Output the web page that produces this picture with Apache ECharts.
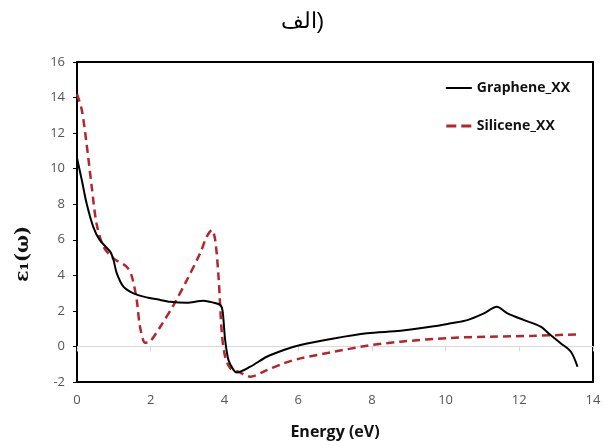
<!DOCTYPE html>
<html>
<head>
<meta charset="utf-8">
<script src="https://cdn.jsdelivr.net/npm/echarts@6/dist/echarts.min.js"></script>
<style>
  html, body { margin: 0; padding: 0; background: #fff; }
  #chart { width: 605px; height: 445px; }
</style>
</head>
<body>
<div id="chart"></div>
<script>
// values (energy in eV, eps1)
const grapheneE = [0, 0.13, 0.26, 0.44, 0.62, 0.9, 0.99, 1.08, 1.26, 1.53, 1.89, 2.17, 2.53, 2.98, 3.43, 3.71, 3.89, 3.95, 4.02, 4.11, 4.25, 4.34, 4.7, 5.15, 5.61, 6.06, 6.97, 7.87, 8.78, 9.68, 10.14, 10.59, 11.04, 11.39, 11.68, 12.13, 12.58, 12.85, 13.13, 13.4, 13.58];
const grapheneEps = [10.6, 9.36, 8.05, 6.73, 5.98, 5.33, 4.86, 4.11, 3.36, 2.99, 2.76, 2.65, 2.51, 2.46, 2.57, 2.46, 2.33, 2.0, 0.36, -0.77, -1.33, -1.46, -1.14, -0.58, -0.2, 0.08, 0.45, 0.74, 0.88, 1.13, 1.3, 1.48, 1.86, 2.23, 1.86, 1.48, 1.11, 0.64, 0.17, -0.3, -1.14];

const siliceneE = [0, 0.13, 0.26, 0.4, 0.53, 0.72, 0.99, 1.35, 1.49, 1.62, 1.71, 1.85, 1.98, 2.26, 2.62, 2.98, 3.34, 3.52, 3.66, 3.75, 3.84, 3.93, 4.02, 4.16, 4.38, 4.7, 5.15, 5.61, 6.06, 6.97, 7.87, 8.78, 10.14, 11.2, 12.4, 13.58];
const siliceneEps = [14.2, 13.3, 11.4, 8.98, 6.92, 5.61, 4.95, 4.48, 3.92, 2.61, 1.11, 0.21, 0.27, 1.11, 2.33, 3.73, 5.24, 6.17, 6.55, 5.98, 3.92, 0.74, -0.58, -1.23, -1.42, -1.7, -1.33, -0.95, -0.67, -0.3, 0.04, 0.27, 0.48, 0.55, 0.6, 0.68];

const xTicks = { min: 0, max: 14, interval: 2 };
const yTicks = { min: -2, max: 16, interval: 2 };

const pairs = (xs, ys) => xs.map((x, i) => [x, ys[i]]);

// plain frame axis (no labels), used for the box around the plot
const frameAxis = (position, ticks) => ({
  type: 'value',
  position: position,
  min: ticks.min,
  max: ticks.max,
  interval: ticks.interval,
  axisLine: { show: true, onZero: false, lineStyle: { color: '#000', width: 2 } },
  axisTick: { show: false },
  axisLabel: { show: false },
  splitLine: { show: false }
});

const myChart = echarts.init(document.getElementById('chart'));
const option = {
  animation: false,
  title: {
    text: 'الف)',
    left: 'center',
    top: 6,
    textStyle: { fontSize: 22, fontWeight: 'normal', color: '#000' }
  },
  // y axis title drawn as rotated text (left of the tick labels)
  graphic: [
    {
      type: 'text',
      left: 14,
      top: 226,
      rotation: Math.PI / 2,
      style: {
        text: 'ε₁(ω)',
        fill: '#111',
        font: 'bold 19px "DejaVu Serif"'
      }
    }
  ],
  legend: {
    orient: 'vertical',
    right: 30,
    top: 76,
    itemWidth: 26,
    itemHeight: 3,
    itemGap: 24,
    textStyle: { fontSize: 14, fontWeight: 'bold', color: '#111', fontFamily: 'Open Sans' },
    data: [
      { name: 'Graphene_XX', icon: 'path://M0,0 L26,0 L26,2 L0,2 Z' },
      { name: 'Silicene_XX', icon: 'path://M0,0 L10,0 L10,3 L0,3 Z M15,0 L25,0 L25,3 L15,3 Z' }
    ]
  },
  grid: {
    left: 77,
    right: 12,
    top: 62,
    bottom: 63
  },
  xAxis: [
    {
      type: 'value',
      min: xTicks.min,
      max: xTicks.max,
      interval: xTicks.interval,
      name: 'Energy (eV)',
      nameLocation: 'middle',
      nameGap: 42,
      nameTextStyle: { fontSize: 16, fontWeight: 'bold', color: '#111', fontFamily: 'Open Sans' },
      axisLine: { show: true, onZero: false, lineStyle: { color: '#000', width: 2 } },
      axisTick: { show: false },
      splitLine: { show: false },
      axisLabel: { fontSize: 13, color: '#555', margin: 12, fontFamily: 'Open Sans' }
    },
    {
      type: 'value',
      min: xTicks.min,
      max: xTicks.max,
      interval: xTicks.interval,
      position: 'bottom',
      axisLine: { show: true, onZero: true, lineStyle: { color: '#d9d9d9', width: 1 } },
      axisLabel: { show: false },
      splitLine: { show: false }
    },
    frameAxis('top', xTicks)
  ],
  yAxis: [
    {
      type: 'value',
      min: yTicks.min,
      max: yTicks.max,
      interval: yTicks.interval,
      axisLine: { show: true, onZero: false, lineStyle: { color: '#000', width: 2 } },
      axisTick: { show: true, length: 4 },
      splitLine: { show: false },
      axisLabel: { fontSize: 13, color: '#555', margin: 12, fontFamily: 'Open Sans' }
    },
    frameAxis('right', yTicks)
  ],
  series: [
    {
      name: 'Graphene_XX',
      type: 'line',
      showSymbol: false,
      smooth: 0.3,
      itemStyle: { color: '#000' },
      lineStyle: { color: '#000', width: 2 },
      data: pairs(grapheneE, grapheneEps),
      z: 3
    },
    {
      name: 'Silicene_XX',
      type: 'line',
      showSymbol: false,
      smooth: 0.3,
      itemStyle: { color: '#b3262b' },
      lineStyle: { color: '#b3262b', width: 2.5, type: [8, 5] },
      data: pairs(siliceneE, siliceneEps),
      z: 2
    }
  ]
};
myChart.setOption(option);
</script>
</body>
</html>
